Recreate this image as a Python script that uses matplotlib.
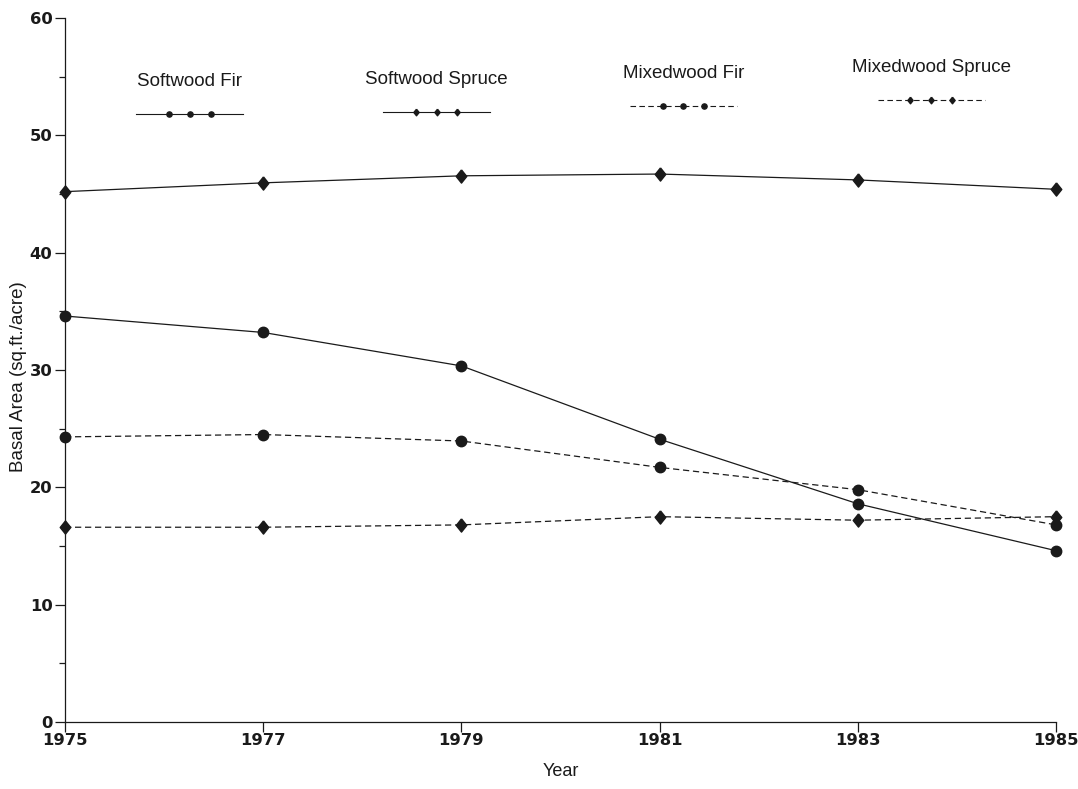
import matplotlib
matplotlib.use("Agg")
import matplotlib.pyplot as plt
from matplotlib.ticker import MultipleLocator

years = [1975, 1977, 1979, 1981, 1983, 1985]
softwood_fir = [34.6, 33.2, 30.35, 24.1, 18.6, 14.6]
softwood_spruce = [45.2, 45.95, 46.55, 46.7, 46.2, 45.4]
mixedwood_fir = [24.3, 24.5, 23.95, 21.7, 19.8, 16.8]
mixedwood_spruce = [16.6, 16.6, 16.8, 17.5, 17.2, 17.5]

series_names = ["Softwood Fir", "Softwood Spruce", "Mixedwood Fir", "Mixedwood Spruce"]
y_ticks = [0, 10, 20, 30, 40, 50, 60]
x_ticks = [1975, 1977, 1979, 1981, 1983, 1985]

DASH = (0, (5, 3))
# slightly squat diamond, a bit taller than wide
DIAMOND = [(0, 1), (0.8, 0), (0, -1), (-0.8, 0), (0, 1)]
styles = [
    dict(ls="-", marker="o", ms=7.5),
    dict(ls="-", marker=DIAMOND, ms=9.5),
    dict(ls=DASH, marker="o", ms=7.5),
    dict(ls=DASH, marker=DIAMOND, ms=9.5),
]

fig = plt.figure(figsize=(10.78, 7.89), dpi=100)
ax = fig.add_axes([0.0603, 0.0849, 0.9193, 0.8923])

for vals, st in zip([softwood_fir, softwood_spruce, mixedwood_fir, mixedwood_spruce], styles):
    ax.plot(years, vals, color="#1a1a1a", lw=0.9, linestyle=st["ls"],
            marker=st["marker"], ms=st["ms"], mfc="#1a1a1a", mec="#1a1a1a",
            clip_on=False, zorder=3)

ax.set_xlim(1975, 1985)
ax.set_ylim(0, 60)
ax.set_xticks(x_ticks)
ax.set_yticks(y_ticks)
ax.yaxis.set_minor_locator(MultipleLocator(5))
ax.spines["top"].set_visible(False)
ax.spines["right"].set_visible(False)
for s in ("left", "bottom"):
    ax.spines[s].set_linewidth(0.9)
    ax.spines[s].set_color("#1a1a1a")
ax.tick_params(which="major", length=7, width=0.9, color="#1a1a1a", direction="out")
ax.tick_params(which="minor", length=4, width=0.9, color="#1a1a1a", direction="out")
ax.tick_params(axis="y", which="major", pad=2)
ax.tick_params(axis="x", which="major", pad=1)
for lab in ax.get_xticklabels() + ax.get_yticklabels():
    lab.set_fontfamily("DejaVu Sans")
    lab.set_fontweight("bold")
    lab.set_fontsize(11.8)
    lab.set_color("#1a1a1a")

label_font = ["Liberation Sans Narrow", "Liberation Sans"]
ax.set_xlabel("Year", fontsize=13, family=label_font, color="#1a1a1a", labelpad=11)
ax.set_ylabel("Basal Area (sq.ft./acre)", fontsize=13.5, family=label_font,
              color="#1a1a1a", va="center")
ax.yaxis.set_label_coords(-0.047, 0.49)

# Key: label above a short line sample with three markers, spread across the top
key_x = [0.126, 0.375, 0.624, 0.874]
key_text_y = [0.898, 0.900, 0.909, 0.917]
key_line_y = [0.864, 0.867, 0.875, 0.883]
half = 0.054
for name, st, kx, ty, ly in zip(series_names, styles, key_x, key_text_y, key_line_y):
    ax.text(kx, ty, name, transform=ax.transAxes, ha="center", va="bottom",
            fontsize=13.5, family="Liberation Sans", color="#1a1a1a")
    ax.plot([kx - half, kx + half], [ly, ly], transform=ax.transAxes,
            color="#1a1a1a", lw=0.8, linestyle=st["ls"])
    ax.plot([kx - 0.021, kx, kx + 0.021], [ly] * 3, transform=ax.transAxes,
            linestyle="none", marker=st["marker"], ms=st["ms"] * 0.5,
            color="#1a1a1a")

fig.savefig("out.png", dpi=100)
